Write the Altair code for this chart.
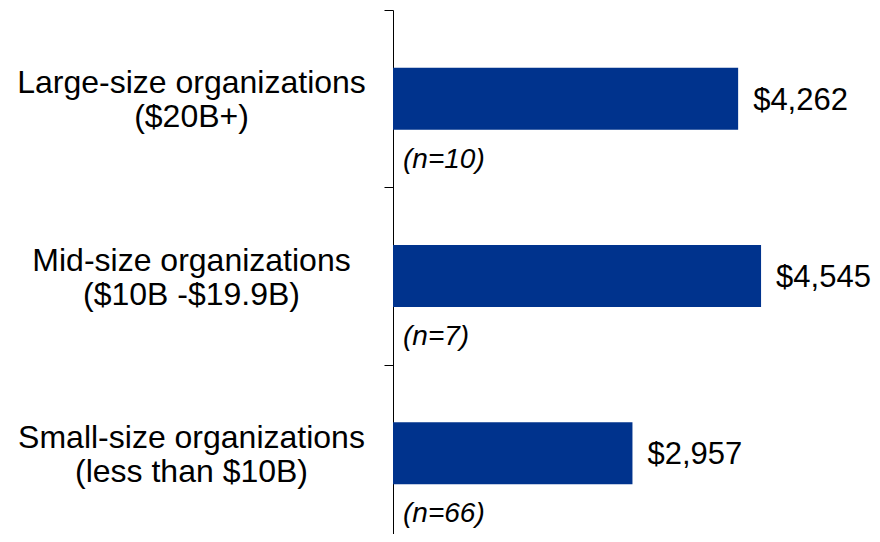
import altair as alt
import pandas as pd

# Data
groups = ["Large", "Mid", "Small"]
label_line1 = ["Large-size organizations", "Mid-size organizations", "Small-size organizations"]
label_line2 = ["($20B+)", "($10B -$19.9B)", "(less than $10B)"]
values = [4262, 4545, 2957]
n_labels = ["(n=10)", "(n=7)", "(n=66)"]

df = pd.DataFrame({
    "group": groups,
    "line1": label_line1,
    "line2": label_line2,
    "value": values,
    "n": n_labels,
})

FONT = "Liberation Sans"
BAR_COLOR = "#00338D"

y_enc = alt.Y(
    "group:N",
    sort=groups,
    scale=alt.Scale(paddingInner=0, paddingOuter=0, range=[0, 532]),
    axis=alt.Axis(
        title=None,
        labels=False,
        tickBand="extent",
        domainColor="black",
        tickColor="black",
        domainWidth=1,
        tickWidth=1,
        tickSize=9,
        grid=False,
    ),
)
x_enc = alt.X("value:Q", scale=alt.Scale(domain=[0, 5915]), axis=None)

base = alt.Chart(df)

bars = base.mark_bar(size=62, color=BAR_COLOR).encode(x=x_enc, y=y_enc)

value_text = base.mark_text(
    align="left", baseline="alphabetic", dx=15, dy=11,
    font=FONT, fontSize=31, color="black",
).encode(x=x_enc, y=alt.Y("group:N", sort=groups), text=alt.Text("value:Q", format="$,"))

n_text = base.mark_text(
    align="left", baseline="alphabetic", dy=69,
    font=FONT, fontSize=28, fontStyle="italic", color="black",
).encode(x=alt.value(10), y=alt.Y("group:N", sort=groups), text="n:N")

lab1 = base.mark_text(
    align="center", baseline="alphabetic", dy=-5.5,
    font=FONT, fontSize=32, color="black",
).encode(x=alt.value(-201.5), y=alt.Y("group:N", sort=groups), text="line1:N")

lab2 = base.mark_text(
    align="center", baseline="alphabetic", dy=28.5,
    font=FONT, fontSize=32, color="black",
).encode(x=alt.value(-201.5), y=alt.Y("group:N", sort=groups), text="line2:N")

chart = alt.layer(bars, value_text, n_text, lab1, lab2).properties(
    width=479,
    height=524,
    autosize=alt.AutoSizeParams(type="none"),
    padding={"left": 385, "top": 2, "right": 0, "bottom": 0},
).configure_view(strokeWidth=0)

chart.save("out.html", embed_options={"renderer": "svg", "actions": False})
